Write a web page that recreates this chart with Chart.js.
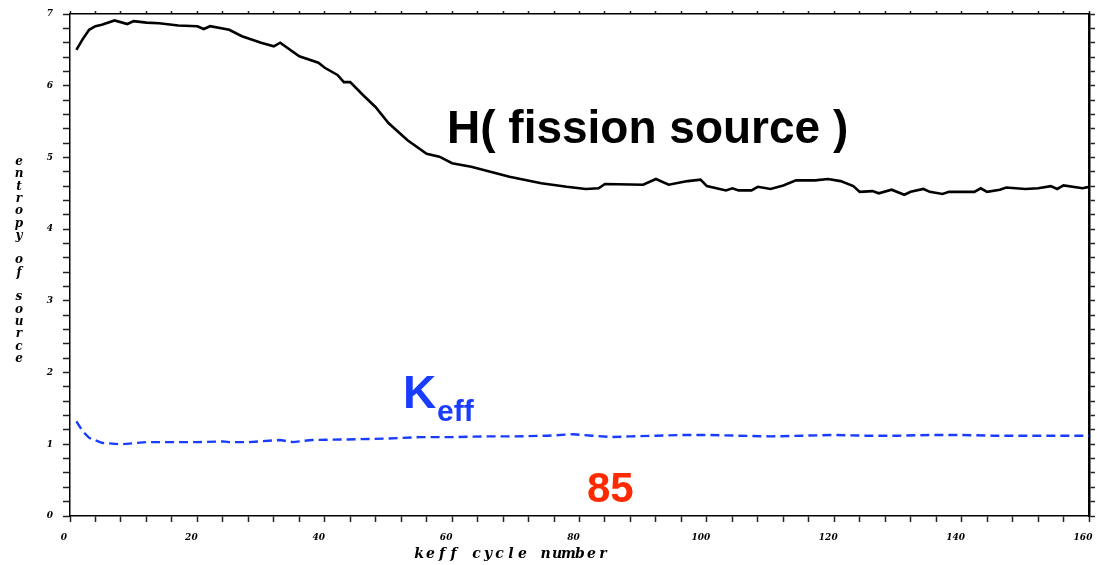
<!DOCTYPE html>
<html>
<head>
<meta charset="utf-8">
<script src="https://cdn.jsdelivr.net/npm/chart.js@4/dist/chart.umd.min.js"></script>
<style>
  html, body { margin: 0; padding: 0; background: #fff; }
  #wrap { width: 1097px; height: 565px; }
</style>
</head>
<body>
<div id="wrap"><canvas id="myChart"></canvas></div>
<script>
// entropy of the fission source per keff cycle
const hCycles = [1, 2, 3, 4, 5, 7, 9, 10, 12, 14, 17, 20, 21, 22, 25, 27, 30, 32, 33, 36, 39, 40, 42, 43, 44, 46, 48, 50, 53, 56, 58, 60, 63, 66, 69, 74, 78, 81, 83, 84, 90, 92, 94, 97, 99, 100, 103, 104, 105, 107, 108, 110, 112, 114, 117, 119, 121, 123, 124, 126, 127, 129, 131, 132, 134, 135, 137, 138, 142, 143, 144, 146, 147, 150, 152, 154, 155, 156, 159, 160];
const hEntropy = [6.50, 6.65, 6.78, 6.83, 6.85, 6.91, 6.86, 6.90, 6.88, 6.87, 6.84, 6.83, 6.79, 6.83, 6.78, 6.69, 6.60, 6.55, 6.60, 6.41, 6.32, 6.25, 6.15, 6.05, 6.05, 5.87, 5.70, 5.48, 5.24, 5.05, 5.01, 4.92, 4.87, 4.80, 4.73, 4.64, 4.59, 4.56, 4.57, 4.63, 4.62, 4.70, 4.62, 4.67, 4.69, 4.60, 4.54, 4.57, 4.54, 4.54, 4.59, 4.56, 4.61, 4.68, 4.68, 4.70, 4.67, 4.60, 4.52, 4.53, 4.50, 4.55, 4.48, 4.52, 4.56, 4.52, 4.49, 4.52, 4.52, 4.57, 4.52, 4.55, 4.58, 4.56, 4.57, 4.60, 4.56, 4.61, 4.57, 4.59];

// keff per cycle
const keffCycles = [1, 2, 3, 5, 8, 12, 20, 24, 25, 28, 33, 35, 38, 45, 50, 55, 60, 65, 70, 75, 79, 82, 85, 88, 92, 96, 100, 105, 110, 115, 120, 125, 130, 135, 140, 145, 150, 155, 160];
const keffValues = [1.32, 1.18, 1.09, 1.02, 1.00, 1.03, 1.03, 1.04, 1.03, 1.03, 1.06, 1.03, 1.06, 1.07, 1.08, 1.10, 1.10, 1.11, 1.11, 1.12, 1.14, 1.12, 1.10, 1.11, 1.12, 1.13, 1.13, 1.12, 1.11, 1.12, 1.13, 1.12, 1.12, 1.13, 1.13, 1.12, 1.12, 1.12, 1.12];

const xMin = 0, xMax = 160, xStep = 4, xLabelEvery = 20;
const yMin = 0, yMax = 7, yStep = 0.2;

const xTitle = 'keff cycle number';
const yTitle = 'entropy of source';
const hLabel = 'H( fission source )';
const keffLabel = 'K';
const keffSub = 'eff';
const cycleLabel = '85';

const toPoints = (xs, ys) => xs.map((x, i) => ({ x: x, y: ys[i] }));

const tickFont = { family: 'DejaVu Serif', size: 9, style: 'italic', weight: 'bold' };

const isWhole = (v, every) => Math.abs(v / every - Math.round(v / every)) < 1e-6;

// drop the label overhang so the plot box stays where it is in the picture
const noPad = s => { s.paddingLeft = 0; s.paddingRight = 0; s.paddingTop = 0; s.paddingBottom = 0; };

const textPlugin = {
    id: 'textPlugin',
    afterDraw(chart) {
        const c = chart.ctx;
        c.save();
        c.textBaseline = 'alphabetic';

        // big annotations
        c.fillStyle = '#000';
        c.font = 'bold 46px "Liberation Sans", Arial, sans-serif';
        c.fillText(hLabel, 447, 143);

        c.fillStyle = '#1a3cff';
        c.font = 'bold 46px "Liberation Sans", Arial, sans-serif';
        c.fillText(keffLabel, 403, 408);
        c.font = 'bold 30px "Liberation Sans", Arial, sans-serif';
        c.fillText(keffSub, 437, 421);

        c.fillStyle = '#ff2a00';
        c.font = 'bold 42px "Liberation Sans", Arial, sans-serif';
        c.fillText(cycleLabel, 587, 502);

        // axis titles, typewriter spacing
        c.fillStyle = '#000';
        c.font = 'italic bold 14px "DejaVu Serif", serif';
        c.textAlign = 'center';
        for (let i = 0; i < xTitle.length; i++) {
            c.fillText(xTitle[i], 419 + i * 11.5, 558);
        }
        c.font = 'italic bold 12px "DejaVu Serif", serif';
        for (let i = 0; i < yTitle.length; i++) {
            c.fillText(yTitle[i], 19, 165 + i * 12.3);
        }
        c.restore();
    }
};

const ctx = document.getElementById('myChart').getContext('2d');

new Chart(ctx, {
    type: 'line',
    data: {
        datasets: [{
            label: 'H',
            data: toPoints(hCycles, hEntropy),
            borderColor: '#000',
            borderWidth: 2.6,
            pointRadius: 0,
            tension: 0,
            xAxisID: 'x',
            yAxisID: 'y'
        }, {
            label: 'keff',
            data: toPoints(keffCycles, keffValues),
            borderColor: '#1a3cff',
            borderWidth: 2.4,
            borderDash: [9, 5],
            pointRadius: 0,
            tension: 0,
            xAxisID: 'x',
            yAxisID: 'y'
        }]
    },
    options: {
        responsive: true,
        maintainAspectRatio: false,
        animation: false,
        layout: { padding: { top: 14, right: 0, left: 0, bottom: 0 } },
        plugins: {
            legend: { display: false },
            tooltip: { enabled: false }
        },
        scales: {
            x: {
                type: 'linear',
                position: 'bottom',
                min: xMin, max: xMax,
                afterFit: s => { s.height = 49; noPad(s); },
                border: { color: '#000', width: 1.5 },
                grid: { drawOnChartArea: false, drawTicks: true, tickLength: 6, tickColor: '#222', tickWidth: 1.5 },
                ticks: {
                    stepSize: xStep,
                    autoSkip: false,
                    maxRotation: 0,
                    padding: 10,
                    labelOffset: -6,
                    color: '#000',
                    font: tickFont,
                    callback: v => isWhole(v, xLabelEvery) ? String(v) : ''
                }
            },
            x2: {
                type: 'linear',
                position: 'top',
                min: xMin, max: xMax,
                display: true,
                afterFit: s => { s.height = 0; noPad(s); },
                border: { color: '#000', width: 1.5 },
                grid: { drawOnChartArea: false, drawTicks: true, tickLength: 3, tickColor: '#222', tickWidth: 1.5 },
                ticks: { stepSize: xStep, autoSkip: false, callback: () => '', padding: 0 }
            },
            y: {
                type: 'linear',
                position: 'left',
                min: yMin, max: yMax,
                afterFit: s => { s.width = 70; noPad(s); },
                border: { color: '#000', width: 1.5 },
                grid: { drawOnChartArea: false, drawTicks: true, tickLength: 7, tickColor: '#222', tickWidth: 1.5 },
                ticks: {
                    stepSize: yStep,
                    autoSkip: false,
                    padding: 10,
                    color: '#000',
                    font: tickFont,
                    callback: v => isWhole(v, 1) ? String(Math.round(v)) : ''
                }
            },
            y2: {
                type: 'linear',
                position: 'right',
                min: yMin, max: yMax,
                display: true,
                afterFit: s => { s.width = 8; noPad(s); },
                border: { color: '#000', width: 2.5 },
                grid: { drawOnChartArea: false, drawTicks: true, tickLength: 6, tickColor: '#222', tickWidth: 1.5 },
                ticks: { stepSize: yStep, autoSkip: false, callback: () => '', padding: 0 }
            }
        }
    },
    plugins: [textPlugin]
});
</script>
</body>
</html>
